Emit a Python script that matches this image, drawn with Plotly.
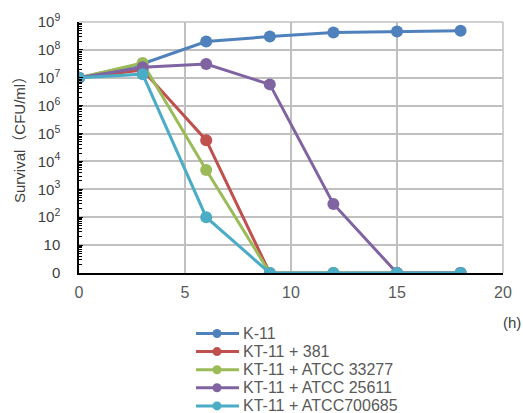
import plotly.graph_objects as go

hours = [0, 3, 6, 9, 12, 15, 18]
series_names = ["K-11", "KT-11 + 381", "KT-11 + ATCC 33277", "KT-11 + ATCC 25611", "KT-11 + ATCC700685"]
k11 = [1e7, 3.2e7, 2.0e8, 3.0e8, 4.2e8, 4.6e8, 4.9e8]
kt381 = [1e7, 1.9e7, 5.8e4, 1, 1, 1, 1]
kt33277 = [1e7, 3.4e7, 4.9e3, 1, 1, 1, 1]
kt25611 = [1e7, 2.4e7, 3.1e7, 5.8e6, 300, 1, 1]
kt700685 = [1e7, 1.35e7, 100, 1, 1, 1, 1]
colors = ["#4F81BD", "#C0504D", "#9BBB59", "#8064A2", "#4BACC6"]
ytickvals = [1, 10, 1e2, 1e3, 1e4, 1e5, 1e6, 1e7, 1e8, 1e9]
yticktext = ["0", "10", "10<sup>2</sup>", "10<sup>3</sup>", "10<sup>4</sup>", "10<sup>5</sup>",
             "10<sup>6</sup>", "10<sup>7</sup>", "10<sup>8</sup>", "10<sup>9</sup>"]

W, H = 523, 413
# plot area in page pixels
PL, PR, PT, PB = 79, 503, 22, 273
L, T = PL, PT
R, B = W - PR, H - PB
PW, PH = PR - PL, PB - PT


def px(x):
    return (x - PL) / PW


def py(y):
    return (PB - y) / PH


fig = go.Figure()
for name, vals, c in zip(series_names, [k11, kt381, kt33277, kt25611, kt700685], colors):
    fig.add_trace(go.Scatter(x=hours, y=vals, name=name, mode="lines+markers",
                             line=dict(color=c, width=3),
                             marker=dict(color=c, size=12)))

font = "Liberation Sans, Arial, Noto Sans CJK JP, sans-serif"
fig.update_layout(
    width=W, height=H,
    margin=dict(l=L, r=R, t=T, b=B),
    paper_bgcolor="white", plot_bgcolor="white",
    font=dict(family=font, size=14, color="#404040"),
    showlegend=False,
    xaxis=dict(range=[0, 20], dtick=5, showgrid=True, gridcolor="#C0C0C0", gridwidth=1.5,
               showline=True, linecolor="black", linewidth=1.5, zeroline=False, automargin=False,
               ticks="", tickfont=dict(size=16, color="#595959"), ticklabelstandoff=4),
    yaxis=dict(type="log", range=[0, 9], tickvals=ytickvals, ticktext=yticktext,
               showgrid=True, gridcolor="#C0C0C0", gridwidth=1.5, automargin=False,
               showline=True, linecolor="black", linewidth=1.5, zeroline=False,
               ticks="inside", ticklen=4, tickcolor="black",
               minor=dict(ticks="inside", ticklen=3, tickcolor="black", dtick="D1", showgrid=False),
               tickfont=dict(size=15, color="#404040"), ticklabelstandoff=14),
)
# plot-area frame (right / top)
fig.add_shape(type="line", xref="paper", yref="paper", x0=1, x1=1, y0=0, y1=1,
              line=dict(color="#C0C0C0", width=1.5))
fig.add_shape(type="line", xref="paper", yref="paper", x0=0, x1=1, y0=1, y1=1,
              line=dict(color="#C0C0C0", width=1.5))
# axis titles
fig.add_annotation(text="(h)", xref="paper", yref="paper", x=px(512), y=py(322),
                   xanchor="center", yanchor="middle",
                   showarrow=False, font=dict(size=15, color="#404040"))
fig.add_annotation(text="Survival（CFU/ml）", xref="paper", yref="paper", x=px(19), y=py(136),
                   xanchor="center", yanchor="middle",
                   textangle=-90, showarrow=False, font=dict(size=15, color="#404040"))

# legend (below the plot)
leg_x0, leg_x1, leg_mx, leg_tx = 196, 239, 217, 241
leg_y0, leg_dy = 333.5, 18.1
r = 4.5
for i, (name, c) in enumerate(zip(series_names, colors)):
    yc = leg_y0 + i * leg_dy
    fig.add_shape(type="line", xref="paper", yref="paper", x0=px(leg_x0), x1=px(leg_x1),
                  y0=py(yc), y1=py(yc), line=dict(color=c, width=3))
    fig.add_shape(type="circle", xref="paper", yref="paper", x0=px(leg_mx - r), x1=px(leg_mx + r),
                  y0=py(yc + r), y1=py(yc - r), fillcolor=c, line=dict(color=c, width=0))
    fig.add_annotation(text=name, xref="paper", yref="paper", x=px(leg_tx), y=py(yc),
                       xanchor="left", yanchor="middle", showarrow=False,
                       font=dict(size=16, color="#595959"))
fig.write_html("out.html", config={"displayModeBar": False},
               post_script="document.body.style.margin='0';document.body.style.overflow='hidden';")
